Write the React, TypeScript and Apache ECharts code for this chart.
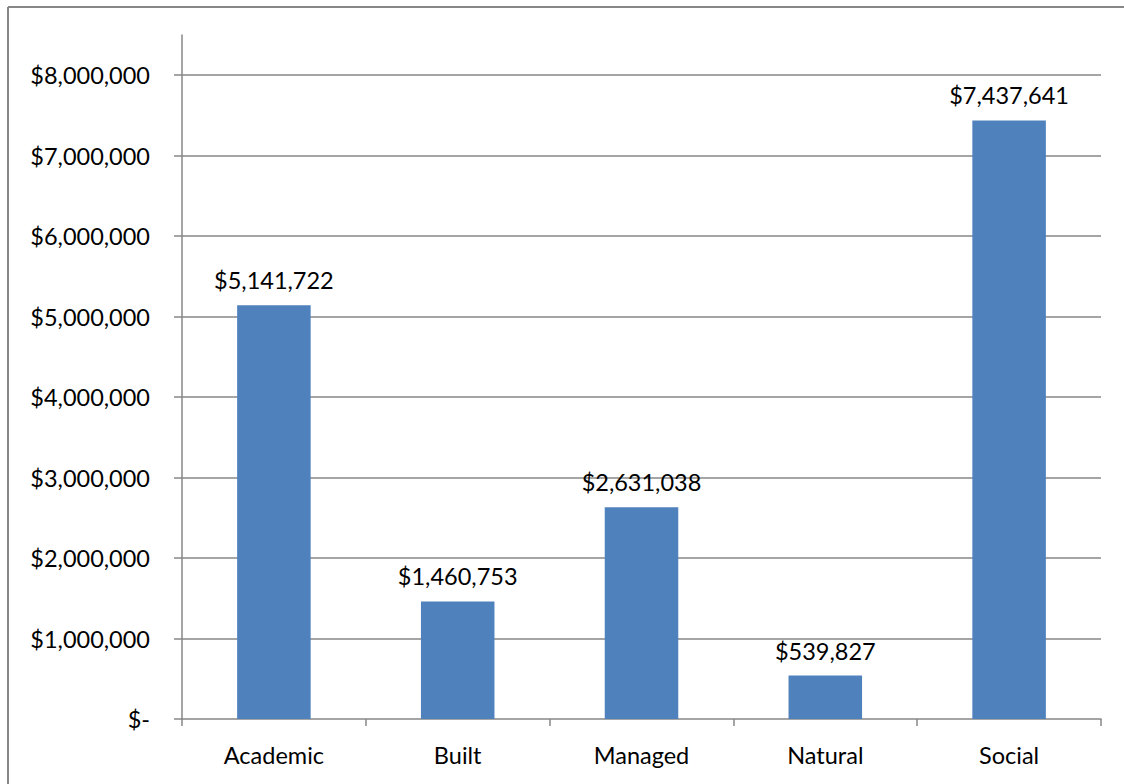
import React, { useEffect, useRef } from "react";
import * as echarts from "echarts";

const categories = ["Academic", "Built", "Managed", "Natural", "Social"];
const values = [5141722, 1460753, 2631038, 539827, 7437641];
const yTicks = [0, 1000000, 2000000, 3000000, 4000000, 5000000, 6000000, 7000000, 8000000];

const FONT = "Lato";
const GRAY = "#878787";

function money(v: number): string {
  if (v === 0) return "$-";
  return "$" + Math.round(v).toLocaleString("en-US");
}

export default function App() {
  const ref = useRef<HTMLDivElement>(null);
  useEffect(() => {
    if (!ref.current) return;
    const chart = echarts.init(ref.current, null, { renderer: "svg" });
    chart.setOption({
      animation: false,
      backgroundColor: "#ffffff",
      textStyle: { fontFamily: FONT },
      grid: { left: 182, right: 23, top: 35, bottom: 65, containLabel: false },
      graphic: [
        { type: "line", shape: { x1: 8, y1: 7, x2: 1124, y2: 7 }, style: { stroke: GRAY, lineWidth: 2 } },
        { type: "line", shape: { x1: 8, y1: 7, x2: 8, y2: 784 }, style: { stroke: GRAY, lineWidth: 2 } },
      ],
      xAxis: {
        type: "category",
        data: categories,
        boundaryGap: true,
        axisLine: { show: true, lineStyle: { color: GRAY, width: 1.5 } },
        axisTick: { show: true, length: 7, inside: false, lineStyle: { color: GRAY, width: 1.5 } },
        axisLabel: { color: "#000", fontFamily: FONT, fontSize: 23.5, margin: 24 },
        splitLine: { show: false },
      },
      yAxis: {
        type: "value",
        min: 0,
        max: 8500000,
        interval: 1000000,
        axisLine: { show: true, lineStyle: { color: GRAY, width: 1.5 } },
        axisTick: { show: true, length: 8, inside: false, customValues: yTicks, lineStyle: { color: GRAY, width: 1.5 } },
        axisLabel: {
          color: "#000",
          fontFamily: FONT,
          fontSize: 23.5,
          margin: 32,
          customValues: yTicks,
          formatter: (v: number) => (yTicks.indexOf(v) >= 0 ? money(v) : ""),
        },
        splitLine: { show: true, showMinLine: false, lineStyle: { color: GRAY, width: 1.5 } },
      },
      series: [
        {
          type: "bar",
          data: values,
          barWidth: "40%",
          itemStyle: { color: "#4F81BD" },
          label: {
            show: true,
            position: "top",
            distance: 13,
            color: "#000",
            fontFamily: FONT,
            fontSize: 23.5,
            formatter: (p: any) => money(p.value),
          },
        },
      ],
    });
    return () => chart.dispose();
  }, []);
  return (
    <div style={{ position: "fixed", left: 0, top: 0, width: 1124, height: 784 }}>
      <div ref={ref} style={{ width: 1124, height: 784 }} />
    </div>
  );
}
